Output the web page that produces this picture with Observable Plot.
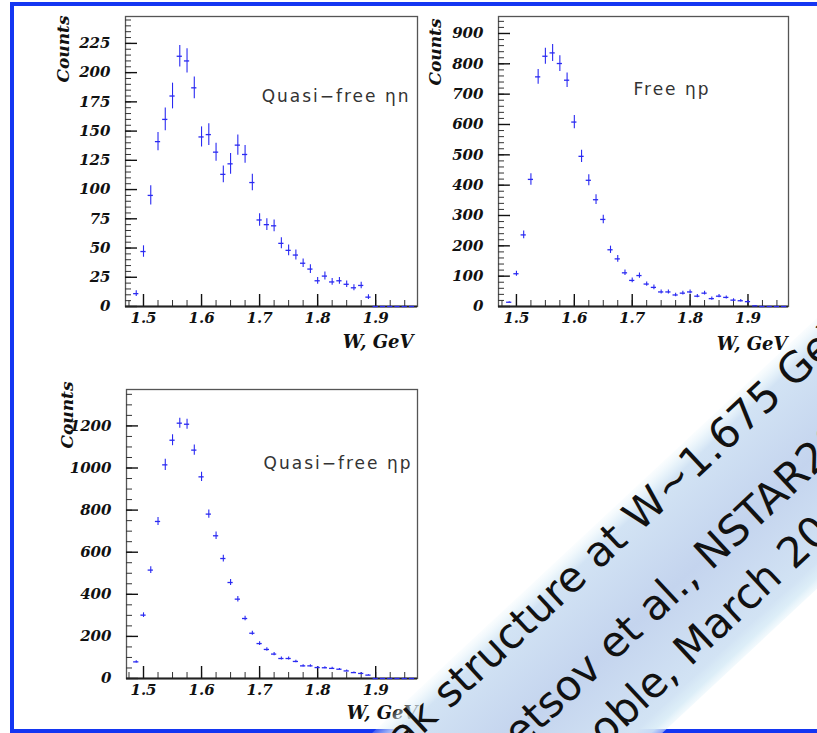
<!DOCTYPE html>
<html><head><meta charset="utf-8">
<script src="https://cdn.jsdelivr.net/npm/d3@7"></script>
<script src="https://cdn.jsdelivr.net/npm/@observablehq/plot@0.6"></script>
<style>
html,body{margin:0;padding:0;background:#fff;}
#page{position:relative;width:817px;height:733px;overflow:hidden;background:#fff;}
.panel{position:absolute;overflow:visible;}
#border{position:absolute;left:10px;top:2px;width:807px;height:731px;box-sizing:border-box;border-top:4px solid #1436f2;border-left:4px solid #1436f2;border-bottom:4px solid #1436f2;}
#banner{position:absolute;left:0;top:0;}
</style></head><body><div id="page"><div id="border"></div></div>
<script>
// bin centres, W (GeV)
const wBins = [1.4875,1.5,1.5125,1.525,1.5375,1.55,1.5625,1.575,1.5875,1.6,1.6125,1.625,1.6375,1.65,1.6625,1.675,1.6875,1.7,1.7125,1.725,1.7375,1.75,1.7625,1.775,1.7875,1.8,1.8125,1.825,1.8375,1.85,1.8625,1.875,1.8875,1.9,1.9125,1.925,1.9375,1.95,1.9625];
// Quasi-free eta n
const quasiN = [11,47,95,141,160,180,214,210,187,145,147,132,113,122,138,130,106,74,70,69,54,48,44,37,32,22,26,21,22,19,16,18,8,0,0,0,0,0,0];
const quasiNErr = [2.5,4.9,8.3,7.8,9.7,11,9.2,10.4,9.3,8.6,9.3,7.7,7.1,8.8,8.6,7.6,7.1,5.4,5,5,4.7,4.6,4.3,3.6,3.8,2.9,3.4,2.9,2.9,2.8,2.5,2.8,2,0,0,0,0,0,0];
// Free eta p
const freeP = [14,108,236,419,757,825,836,801,746,608,495,416,352,287,187,157,111,86,102,74,63,48,48,38,44,48,34,44,26,34,30,21,19,16,2,0,0,0,0];
const freePErr = [2,8,13,19,24,26,28,26,24,22,20,18,16,14,12,11,9,8,8.5,7,7.5,6.5,6.5,6,6,6.5,5.5,6,5,5.5,5,4.5,4,4,1,0,0,0,0];
// Quasi-free eta p
const quasiP = [79,301,515,746,1015,1132,1213,1208,1085,958,781,678,570,456,377,285,215,166,138,116,95,95,81,60,60,52,51,48,44,36,28,24,16,0,0,0,0,0,0];
const quasiPErr = [5,11,16,19,27,26,24,24,24,22,20,18,16,14,13,11,10,9,8,8,7,7,6,5,5,5,5,5,4,4,3,3,2,0,0,0,0,0,0];
const binHalf = 0.0045;

// tick labels
const xTicks = [1.5,1.6,1.7,1.8,1.9];
const yTicksN = [0,25,50,75,100,125,150,175,200,225];
const yTicksFree = [0,100,200,300,400,500,600,700,800,900];
const yTicksQP = [0,200,400,600,800,1000,1200];
const panelLabels = ["Quasi\u2212free \u03b7n","Free \u03b7p","Quasi\u2212free \u03b7p"];
const xTitle = "W, GeV", yTitle = "Counts";
const bannerLines = ["Peak structure at W~1.675 GeV","V. Kuznetsov et al., NSTAR2004","Grenoble, March 2004"];

const BLUE = "#2a2af2";
const serif = "DejaVu Serif";

function makePanel(cfg) {
  const rows = wBins.map((w, i) => ({w, c: cfg.counts[i], e: cfg.errs[i]}));
  const pw = cfg.width - cfg.mL - cfg.mR, ph = cfg.height - cfg.mT - cfg.mB;
  const xMinor = d3.range(1.475, cfg.xDomain[1], 0.025);
  const yMinor = d3.range(0, cfg.yDomain[1], cfg.yMinorStep);
  const svg = Plot.plot({
    width: cfg.width, height: cfg.height,
    marginLeft: cfg.mL, marginRight: cfg.mR, marginTop: cfg.mT, marginBottom: cfg.mB,
    x: {domain: cfg.xDomain, axis: null},
    y: {domain: cfg.yDomain, axis: null},
    style: {background: "transparent", overflow: "visible"},
    marks: [
      Plot.frame({stroke: "#555", strokeWidth: 1.3}),
      Plot.tickY(yMinor, {y: d => d, insetRight: pw - 6, stroke: "#333", strokeWidth: 1}),
      Plot.tickY(cfg.yTicks, {y: d => d, insetRight: pw - 12, stroke: "#111", strokeWidth: 1.4}),
      Plot.tickX(xMinor, {x: d => d, insetTop: ph - 6, stroke: "#333", strokeWidth: 1}),
      Plot.tickX(xTicks, {x: d => d, insetTop: ph - 12, stroke: "#111", strokeWidth: 1.4}),
      Plot.ruleY([0], {stroke: "#222", strokeWidth: 1.8}),
      Plot.axisY(cfg.yTicks, {anchor: "left", tickSize: 0, tickPadding: 15, tickFormat: d3.format("d"), fontSize: 15, fontWeight: "bold", fontStyle: "italic", fontFamily: serif, fill: "#111", label: null}),
      Plot.axisX(xTicks, {anchor: "bottom", tickSize: 0, tickPadding: cfg.xPad, tickFormat: d3.format(".1f"), fontSize: 15, fontWeight: "bold", fontStyle: "italic", fontFamily: serif, fill: "#111", label: null}),
      Plot.ruleX(rows.filter(d => d.e > 0), {x: "w", y1: d => d.c - d.e, y2: d => d.c + d.e, stroke: BLUE, strokeWidth: 1.1}),
      Plot.ruleY(rows, {y: "c", x1: d => d.w - binHalf, x2: d => d.w + binHalf, stroke: BLUE, strokeWidth: 1.3}),
      Plot.text([cfg.label], {frameAnchor: cfg.labelAnchor, textAnchor: cfg.labelText, lineAnchor: "middle", dx: cfg.labelDx, dy: cfg.labelDy, fontSize: 17, fontFamily: "DejaVu Sans", fill: "#333"}),
      Plot.text([xTitle], {frameAnchor: "bottom-right", textAnchor: "end", lineAnchor: "middle", dx: cfg.wDx, dy: cfg.wDy, fontSize: 18, fontWeight: "bold", fontStyle: "italic", fontFamily: serif, fill: "#111"}),
      Plot.text([yTitle], {frameAnchor: "top-left", rotate: -90, textAnchor: "end", lineAnchor: "middle", dx: cfg.cDx, dy: cfg.cDy, fontSize: 17, fontWeight: "bold", fontStyle: "italic", fontFamily: serif, fill: "#111"})
    ]
  });
  svg.classList.add("panel");
  svg.style.left = cfg.left + "px";
  svg.style.top = cfg.top + "px";
  d3.select(svg).selectAll("text").filter(function() { return this.textContent === cfg.label; }).style("letter-spacing", "2px");
  document.getElementById("page").appendChild(svg);
}

makePanel({left: 0, top: 0, width: 430, height: 365, mL: 125, mR: 13, mT: 16, mB: 59,
  xDomain: [1.469, 1.972], yDomain: [0, 248], yTicks: yTicksN, yMinorStep: 5,
  counts: quasiN, errs: quasiNErr, label: panelLabels[0], labelAnchor: "top-right", labelText: "end", labelDx: -7, labelDy: 80,
  wDx: -4, wDy: 36, cDx: -62, cDy: -1, xPad: 6});
makePanel({left: 430, top: 0, width: 387, height: 365, mL: 68, mR: 29, mT: 16, mB: 59,
  xDomain: [1.469, 1.970], yDomain: [0, 956], yTicks: yTicksFree, yMinorStep: 20,
  counts: freeP, errs: freePErr, label: panelLabels[1], labelAnchor: "top-left", labelText: "start", labelDx: 135, labelDy: 73,
  wDx: -1, wDy: 38, cDx: -63, cDy: 2, xPad: 6});
makePanel({left: 0, top: 365, width: 430, height: 368, mL: 126, mR: 13, mT: 24, mB: 55,
  xDomain: [1.4707, 1.972], yDomain: [0, 1373], yTicks: yTicksQP, yMinorStep: 50,
  counts: quasiP, errs: quasiPErr, label: panelLabels[2], labelAnchor: "top-right", labelText: "end", labelDx: -5, labelDy: 74,
  wDx: 0, wDy: 35, cDx: -59, cDy: -8, xPad: 6});

// diagonal banner
const bsvg = d3.select("#page").append("svg").attr("id", "banner").attr("width", 817).attr("height", 733);
const grad = bsvg.append("defs").append("linearGradient").attr("id", "bg").attr("x1", 0).attr("y1", 0).attr("x2", 0).attr("y2", 1);
[[0, "#e8f5fb", 0.2], [0.05, "#dcedf8", 0.65], [0.1, "#d2e3f4", 1], [0.5, "#c4d4ee", 1], [0.9, "#d2e3f4", 1], [0.96, "#d9ecf7", 0.9], [1, "#e8f5fb", 0.55]]
  .forEach(([o, c, a]) => grad.append("stop").attr("offset", o).attr("stop-color", c).attr("stop-opacity", a));
const bandW = 198;
const g = bsvg.append("g").attr("transform", "translate(372,733) rotate(-43)");
g.append("rect").attr("x", -300).attr("y", 0).attr("width", 1300).attr("height", bandW).attr("fill", "url(#bg)");
const linePos = [{n: 36, key: 2, u: 22}, {n: 113, key: 7, u: 110}, {n: 169, key: 4, u: 174}];
bannerLines.forEach((t, i) => {
  const el = g.append("text").attr("x", 0).attr("y", linePos[i].n).attr("font-family", "DejaVu Sans").attr("font-size", 42).attr("fill", "#111").text(t);
  const node = el.node();
  const pre = node.getSubStringLength(0, linePos[i].key);
  const cw = node.getSubStringLength(linePos[i].key, 1);
  el.attr("x", linePos[i].u - pre - cw / 2);
});
</script></body></html>
